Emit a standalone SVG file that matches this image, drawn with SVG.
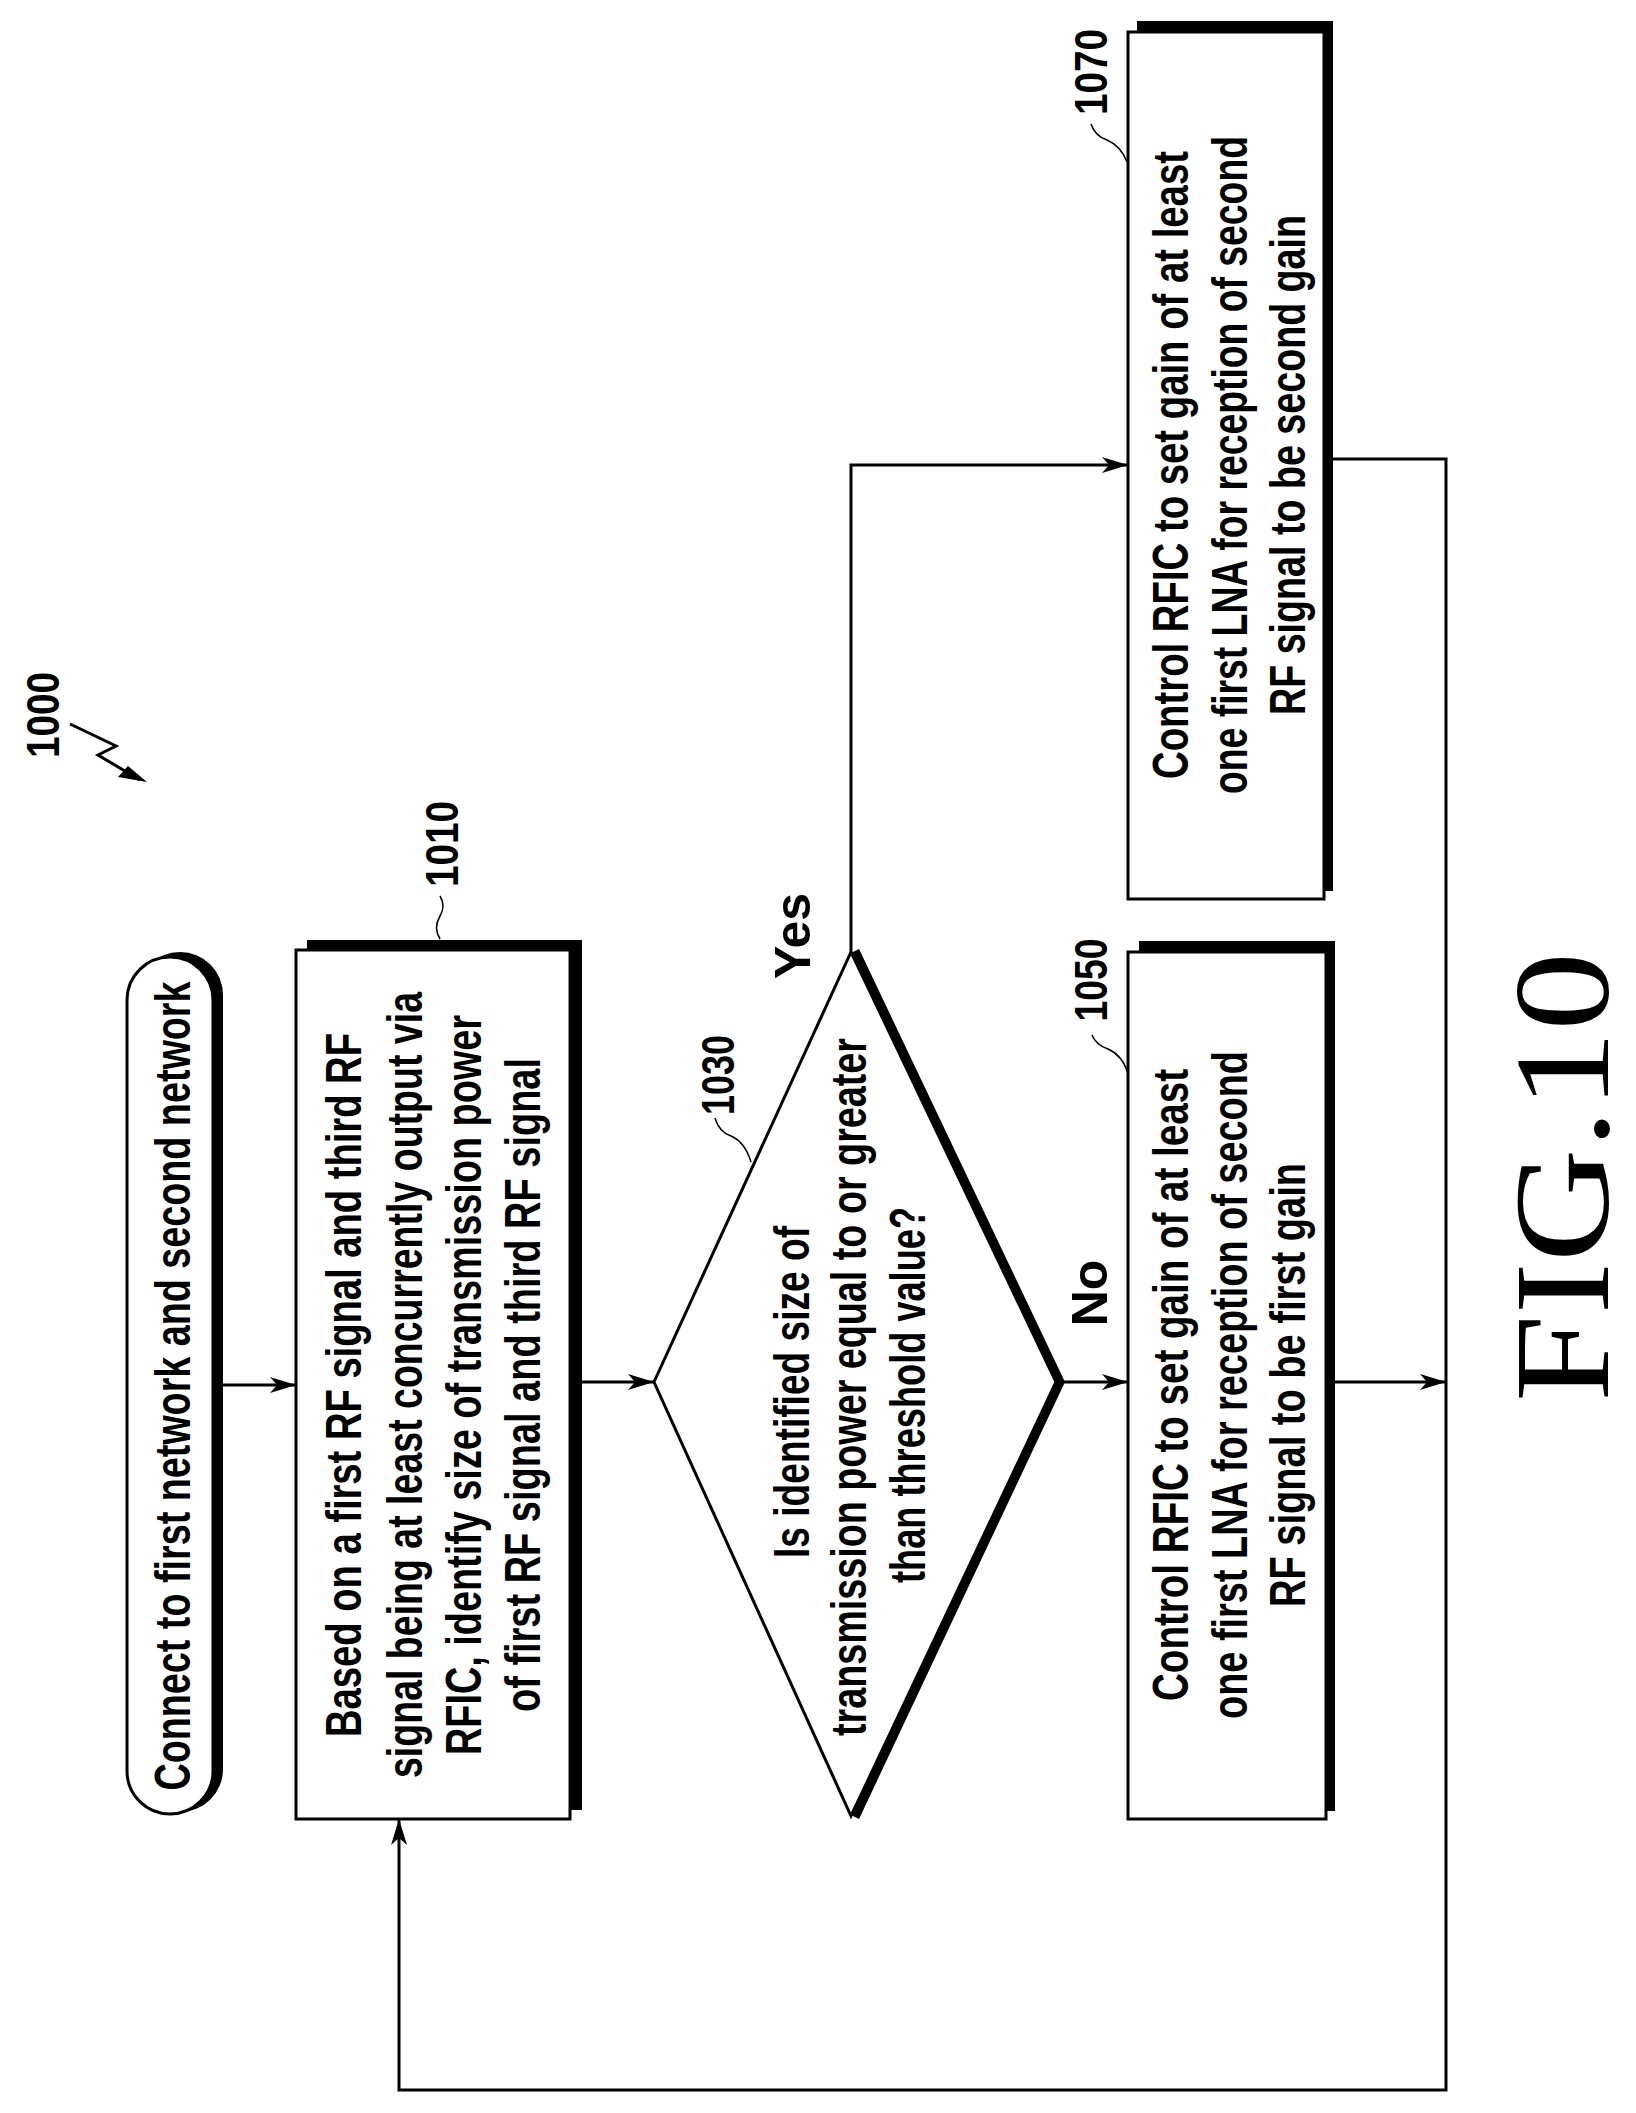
<svg xmlns="http://www.w3.org/2000/svg" width="1636" height="2113" viewBox="0 0 1636 2113">
<style>
.t{font-family:"Liberation Sans Narrow","Liberation Sans",Arial,sans-serif;font-weight:bold;font-size:50px;text-anchor:middle;fill:#000}
.n{font-family:"Liberation Sans Narrow","Liberation Sans",Arial,sans-serif;font-weight:bold;font-size:46px;text-anchor:middle;fill:#000}
.b{fill:#fff;stroke:#000;stroke-width:3}
.s{fill:#000}
.l{fill:none;stroke:#000;stroke-width:3}
.w{fill:none;stroke:#000;stroke-width:1.5}
</style>
<defs>
<marker id="a" viewBox="0 0 26 16" refX="26" refY="8" markerWidth="26" markerHeight="16" markerUnits="userSpaceOnUse" orient="auto">
<path d="M0,0 L26,8 L0,16 L7,8 Z" fill="#000"/>
</marker>
</defs>
<rect width="1636" height="2113" fill="#fff"/>
<g id="label1000">
<text class="n" transform="translate(59,715) rotate(-90)" textLength="86" lengthAdjust="spacingAndGlyphs">1000</text>
<path class="l" d="M70,724 L116,746 L98,755 L140,780"/>
<path d="M147,782 L118,777 L128,766 Z" fill="#000"/>
</g>
<g id="start">
<rect x="137" y="952" width="86" height="860" rx="43" class="s"/>
<rect x="127" y="957" width="86" height="857" rx="43" class="b"/>
<text class="t" transform="translate(190,1386) rotate(-90)" textLength="809" lengthAdjust="spacingAndGlyphs">Connect to first network and second network</text>
</g>
<g id="n1010">
<rect x="307" y="940" width="275" height="870" class="s"/>
<rect x="296" y="950" width="274" height="869" class="b"/>
<text class="t" transform="translate(361,1385) rotate(-90)" textLength="704" lengthAdjust="spacingAndGlyphs">Based on a first RF signal and third RF</text>
<text class="t" transform="translate(422,1385) rotate(-90)" textLength="786" lengthAdjust="spacingAndGlyphs">signal being at least concurrently output via</text>
<text class="t" transform="translate(481,1385) rotate(-90)" textLength="740" lengthAdjust="spacingAndGlyphs">RFIC, identify size of transmission power</text>
<text class="t" transform="translate(540,1385) rotate(-90)" textLength="654" lengthAdjust="spacingAndGlyphs">of first RF signal and third RF signal</text>
<text class="n" transform="translate(458,844) rotate(-90)" textLength="86" lengthAdjust="spacingAndGlyphs">1010</text>
<path class="w" d="M440,896 q6,10 0,20 q-7,12 0,23"/>
</g>
<g id="n1030">
<path d="M855,951 L1060,1382 L855,1817" stroke="#000" stroke-width="9" fill="none"/>
<path class="b" d="M654,1382 L851,952 L1056,1382 L851,1816 Z"/>
<text class="t" transform="translate(809,1392) rotate(-90)" textLength="332" lengthAdjust="spacingAndGlyphs">Is identified size of</text>
<text class="t" transform="translate(866,1387) rotate(-90)" textLength="698" lengthAdjust="spacingAndGlyphs">transmission power equal to or greater</text>
<text class="t" transform="translate(925,1395) rotate(-90)" textLength="376" lengthAdjust="spacingAndGlyphs">than threshold value?</text>
<text class="n" transform="translate(734,1075) rotate(-90)" textLength="80" lengthAdjust="spacingAndGlyphs">1030</text>
<path class="w" d="M715,1118 q4,14 16,18 q14,6 20,26"/>
</g>
<g id="n1050">
<rect x="1139" y="941" width="196" height="870" class="s"/>
<rect x="1128" y="952" width="198" height="867" class="b"/>
<text class="t" transform="translate(1188,1385) rotate(-90)" textLength="632" lengthAdjust="spacingAndGlyphs">Control RFIC to set gain of at least</text>
<text class="t" transform="translate(1247,1385) rotate(-90)" textLength="668" lengthAdjust="spacingAndGlyphs">one first LNA for reception of second</text>
<text class="t" transform="translate(1305,1385) rotate(-90)" textLength="444" lengthAdjust="spacingAndGlyphs">RF signal to be first gain</text>
<text class="n" transform="translate(1107,980) rotate(-90)" textLength="83" lengthAdjust="spacingAndGlyphs">1050</text>
<path class="w" d="M1092,1035 q4,10 16,14 q14,6 20,24"/>
</g>
<g id="n1070">
<rect x="1137" y="21" width="196" height="870" class="s"/>
<rect x="1128" y="32" width="196" height="867" class="b"/>
<text class="t" transform="translate(1188,465) rotate(-90)" textLength="628" lengthAdjust="spacingAndGlyphs">Control RFIC to set gain of at least</text>
<text class="t" transform="translate(1247,465) rotate(-90)" textLength="658" lengthAdjust="spacingAndGlyphs">one first LNA for reception of second</text>
<text class="t" transform="translate(1305,465) rotate(-90)" textLength="500" lengthAdjust="spacingAndGlyphs">RF signal to be second gain</text>
<text class="n" transform="translate(1107,72) rotate(-90)" textLength="86" lengthAdjust="spacingAndGlyphs">1070</text>
<path class="w" d="M1091,124 q4,12 16,16 q14,6 20,22"/>
</g>
<g id="connectors">
<path class="l" d="M223,1385 L296,1385" marker-end="url(#a)"/>
<path class="l" d="M582,1382 L654,1382" marker-end="url(#a)"/>
<path class="l" d="M851,952 L851,465 L1128,465" marker-end="url(#a)"/>
<path class="l" d="M1060,1382 L1128,1382" marker-end="url(#a)"/>
<path class="l" d="M1335,1382 L1446,1382" marker-end="url(#a)"/>
<path class="l" d="M1333,459 L1446,459 L1446,2090 L399,2090 L399,1819" marker-end="url(#a)"/>
<text class="t" transform="translate(810,936) rotate(-90)">Yes</text>
<text class="t" transform="translate(1107,1293) rotate(-90)">No</text>
</g>
<text transform="translate(1608,1177) rotate(-90)" font-family="'Liberation Serif',serif" font-size="135" text-anchor="middle" textLength="450" lengthAdjust="spacingAndGlyphs">FIG.10</text>
</svg>
